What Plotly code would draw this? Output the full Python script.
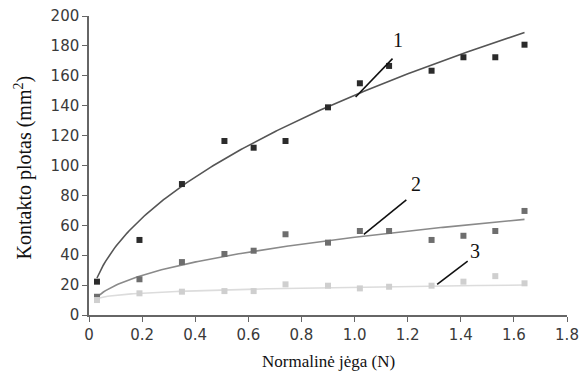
import numpy as np
import plotly.graph_objects as go

force = [0.03, 0.19, 0.35, 0.51, 0.62, 0.74, 0.90, 1.02, 1.13, 1.29, 1.41, 1.53, 1.64]
area1 = [22.3, 50.2, 87.6, 116.4, 111.9, 116.4, 138.9, 155.0, 166.6, 163.4, 172.4, 172.4, 180.8]
area2 = [12.2, 23.9, 35.4, 40.8, 43.0, 54.0, 48.4, 56.2, 56.2, 50.2, 53.0, 56.2, 69.6]
area3 = [10.0, 14.5, 15.6, 16.0, 16.0, 20.5, 19.6, 17.8, 18.9, 19.6, 22.3, 26.0, 21.2]

# power-law trend line parameters (a * x^b)
fit1 = (147.0, 0.508)
fit2 = (52.0, 0.418)
fit3 = (18.6, 0.149)

xticks = [0, 0.2, 0.4, 0.6, 0.8, 1.0, 1.2, 1.4, 1.6, 1.8]
xticklabels = ["0", "0.2", "0.4", "0.6", "0.8", "1.0", "1.2", "1.4", "1.6", "1.8"]
yticks = [0, 20, 40, 60, 80, 100, 120, 140, 160, 180, 200]

marker_cols = ["#2b2b2b", "#6e6e6e", "#cfcfcf"]
line_cols = ["#555555", "#8a8a8a", "#dcdcdc"]

fig = go.Figure()
xf = np.linspace(force[0], force[-1], 200)
for (a, b), lc in zip([fit1, fit2, fit3], line_cols):
    fig.add_trace(go.Scatter(x=xf, y=a * xf ** b, mode="lines",
                             line=dict(color=lc, width=1.6), showlegend=False, hoverinfo="skip"))
for ys, mc in zip([area1, area2, area3], marker_cols):
    fig.add_trace(go.Scatter(x=force, y=ys, mode="markers",
                             marker=dict(symbol="square", size=6, color=mc), showlegend=False))

labels = ["1", "2", "3"]
label_pos = [(1.165, 184.0), (1.23, 87.5), (1.455, 42.5)]
leader_start = [(1.143, 171.5), (1.195, 77.0), (1.426, 36.0)]
leader_end = [(1.004, 145.8), (1.035, 54.0), (1.311, 20.5)]
for t, (tx, ty), (x0, y0), (x1, y1) in zip(labels, label_pos, leader_start, leader_end):
    fig.add_annotation(x=tx, y=ty, text=t, showarrow=False,
                       font=dict(family="Liberation Serif", size=20, color="#111"))
    fig.add_shape(type="line", x0=x0, y0=y0, x1=x1, y1=y1,
                  line=dict(color="#111", width=1.6))

# axis titles
fig.add_annotation(xref="paper", yref="paper", x=0.5, y=0, xanchor="center", yanchor="middle",
                   yshift=-46, text="Normalinė jėga (N)", showarrow=False,
                   font=dict(family="Liberation Serif", size=17, color="#111"))
fig.add_annotation(xref="paper", yref="paper", x=0, y=0.5, xanchor="center", yanchor="middle",
                   xshift=-66, yshift=-2, textangle=-90, text="Kontakto plotas (mm<sup>2</sup>)",
                   showarrow=False, font=dict(family="Liberation Serif", size=20, color="#111"))

axis_font = dict(family="DejaVu Sans", size=15, color="#3a3a3a")
fig.update_layout(
    width=582, height=373,
    margin=dict(l=89, r=15, t=16, b=58, autoexpand=False),
    plot_bgcolor="white", paper_bgcolor="white",
    xaxis=dict(range=[0, 1.8], tickvals=xticks, ticktext=xticklabels, automargin=False,
               showgrid=False, zeroline=False, showline=True, linecolor="#666", linewidth=1.5,
               ticks="outside", ticklen=5, tickcolor="#666", tickfont=axis_font),
    yaxis=dict(range=[0, 200], tickvals=yticks, automargin=False,
               showgrid=False, zeroline=False, showline=True, linecolor="#666", linewidth=1.5,
               ticks="outside", ticklen=5, tickcolor="#666", tickfont=axis_font),
)
fig.write_html("out.html")
